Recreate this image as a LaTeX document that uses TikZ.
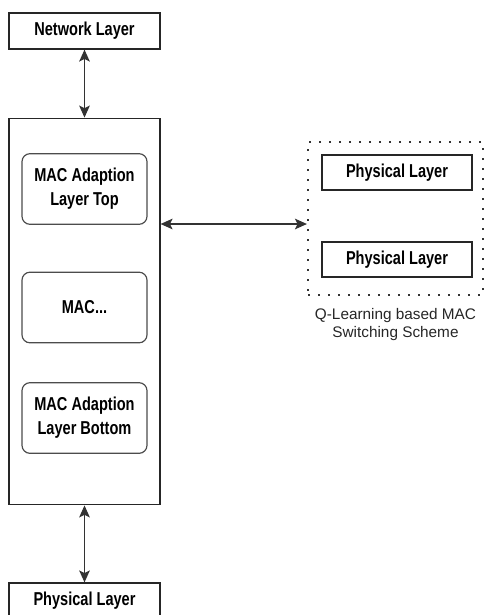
\documentclass[tikz,border=0pt]{standalone}
\usepackage{fontspec}
\setmainfont{Liberation Sans}
\newfontfamily\narrowbf[FakeStretch=0.78]{Liberation Sans Bold}
\usepackage{tikz}
\usetikzlibrary{positioning,arrows.meta}
\tikzstyle{layer}=[draw=black!85,line width=0.9pt,align=center,inner sep=0pt,font=\narrowbf\fontsize{14}{18}\selectfont]
\tikzstyle{sublayer}=[layer,rounded corners=6pt,draw=black!70,minimum width=93.75pt,minimum height=53pt]
\tikzstyle{wide}=[minimum width=113.25pt,minimum height=27pt]
\tikzstyle{link}=[{Stealth[length=9pt,width=8pt,inset=2pt]}-{Stealth[length=9pt,width=8pt,inset=2pt]},line width=1.1pt,black!80]

\begin{document}
\begin{tikzpicture}[x=0.75pt,y=-0.75pt]
\useasboundingbox (0,0) rectangle (485,615);
% left stack
\node [layer,wide] (net) at (84.5,31) {Network Layer};
\node [layer,minimum width=113.25pt,minimum height=290pt] (mac) at (84.5,311.5) {};
\node [sublayer] (top) at (84.5,189) {MAC Adaption\\Layer Top};
\node [sublayer] (mid) at (84.5,307.5) {MAC...};
\node [sublayer] (bot) at (84.5,418) {MAC Adaption\\Layer Bottom};
\node [layer,wide] (phy) at (84.5,601) {Physical Layer};
% switching scheme
\node [draw=black!80,line width=1.6pt,dash pattern=on 1.2pt off 6.3pt,minimum width=131.25pt,minimum height=114.75pt] (sw) at (395.5,218.5) {};
\node [layer,minimum width=112.5pt,minimum height=26.25pt] (phy1) at (397,172.5) {Physical Layer};
\node [layer,minimum width=112.5pt,minimum height=26.25pt] (phy2) at (397,259.5) {Physical Layer};
\node [below=6pt of sw,align=center,text=black!85,font=\fontsize{11.5}{13.5}\selectfont] (swlabel) {Q-Learning based MAC\\Switching Scheme};
\coordinate (swin) at (sw.west |- 0,224);
% links
\draw [link] (net.south) -- (mac.north);
\draw [link] (mac.south) -- (phy.north);
\draw [link] (mac.east |- swin) -- (swin);
\end{tikzpicture}
\end{document}
